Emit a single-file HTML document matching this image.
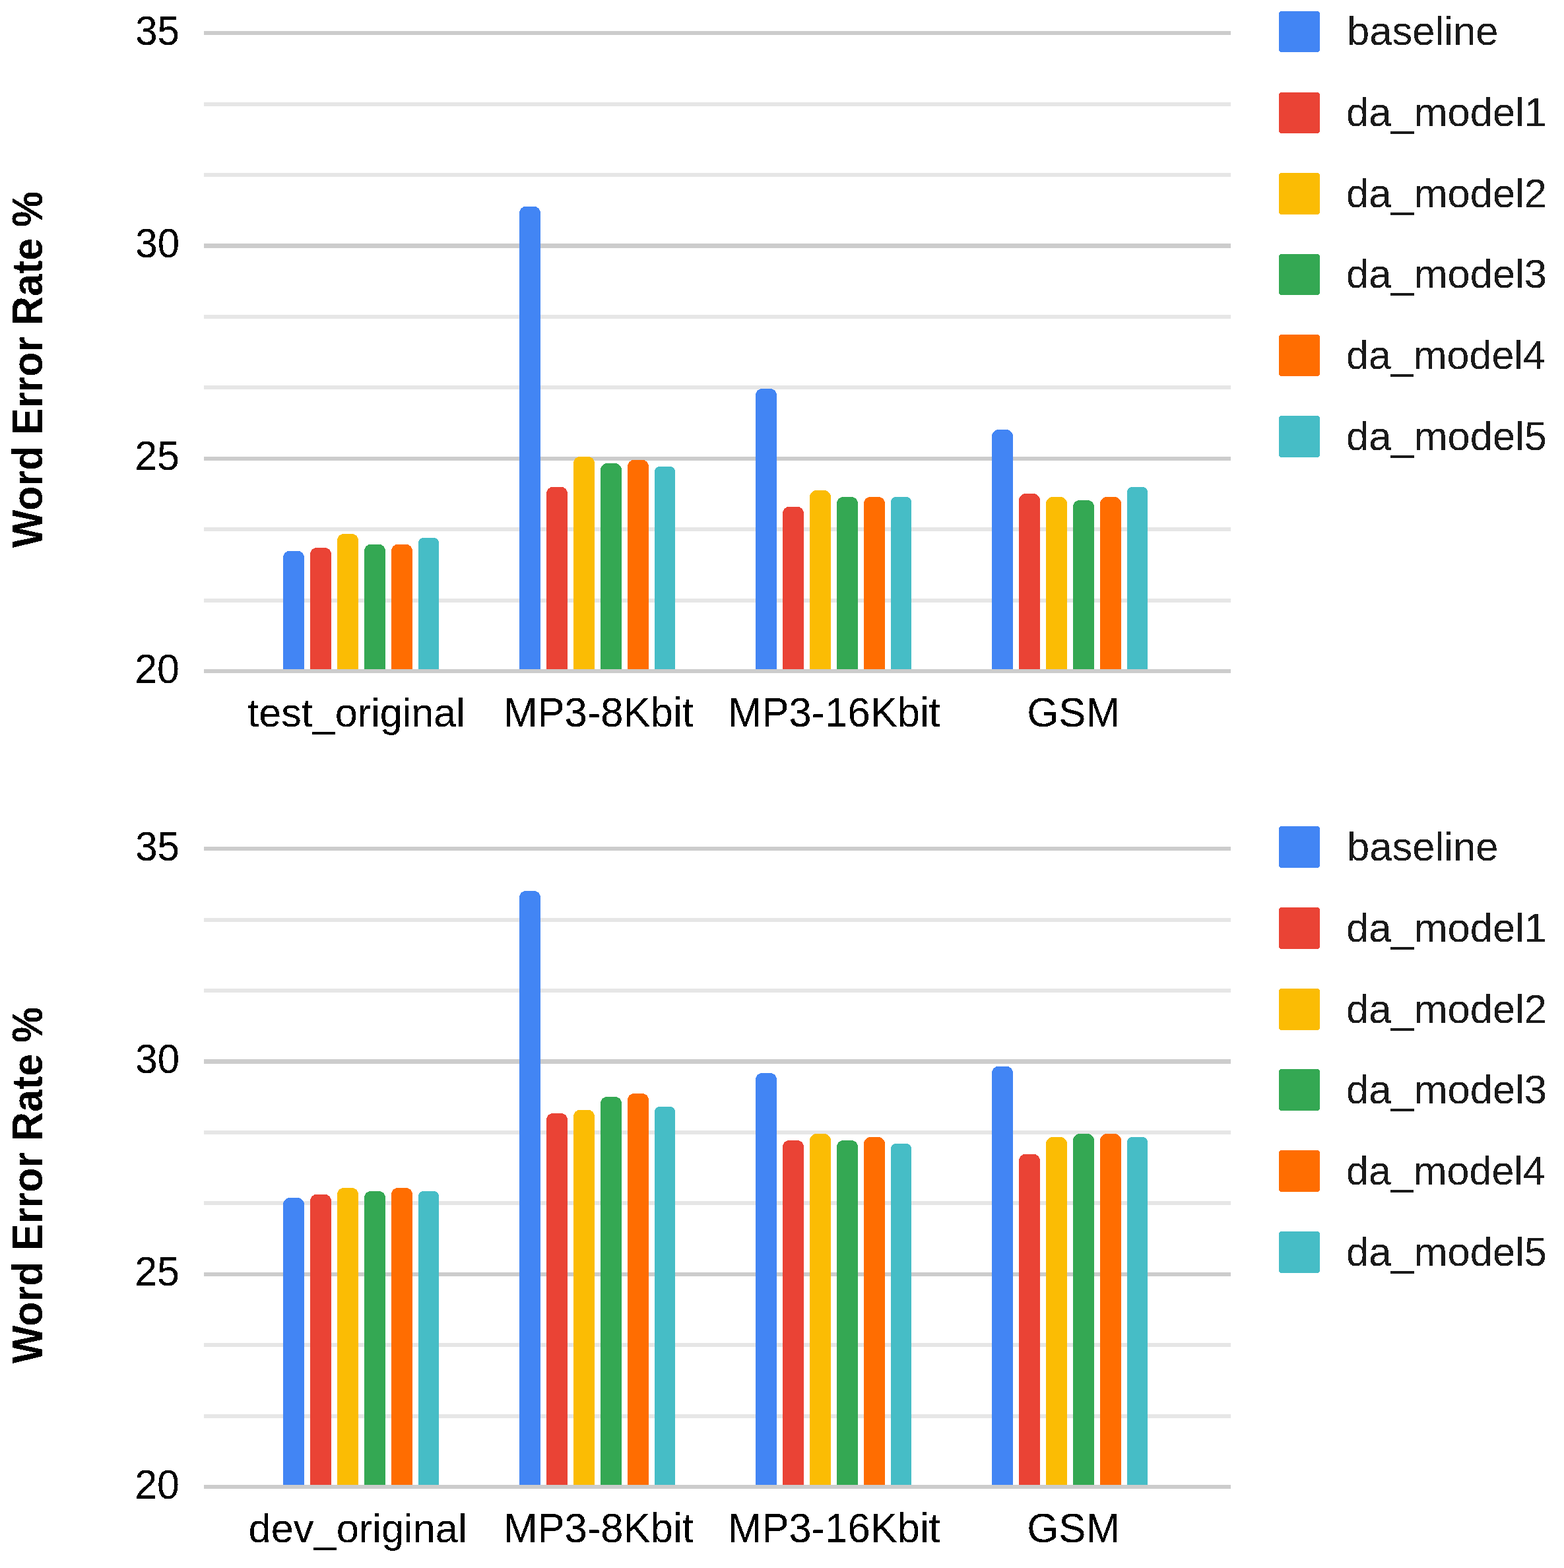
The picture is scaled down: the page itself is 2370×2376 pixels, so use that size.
<!DOCTYPE html>
<html><head><meta charset="utf-8"><title>Word Error Rate chart</title><style>
html,body{margin:0;padding:0;background:#fff;overflow:hidden;}
svg{display:block;}
rect,path{shape-rendering:crispEdges;}
text{filter:url(#bin);}
text{font-family:"Liberation Sans",Arial,sans-serif;font-size:61px;}
.ax{fill:#000;}
.lg{fill:#1a1a1a;}
.ti{font-weight:bold;fill:#000;}
</style></head><body>
<svg width="2370" height="2376" viewBox="0 0 2370 2376" xmlns="http://www.w3.org/2000/svg">
<defs><filter id="bin" x="0" y="0" width="1" height="1" color-interpolation-filters="sRGB"><feComponentTransfer><feFuncA type="discrete" tableValues="0 1"/></feComponentTransfer></filter></defs>
<rect width="2370" height="2376" fill="#fff"/>
<rect x="309" y="47" width="1556" height="6" fill="#cccccc"/>
<rect x="309" y="155" width="1556" height="6" fill="#e6e6e6"/>
<rect x="309" y="262" width="1556" height="6" fill="#e6e6e6"/>
<rect x="309" y="369" width="1556" height="7" fill="#cccccc"/>
<rect x="309" y="477" width="1556" height="6" fill="#e6e6e6"/>
<rect x="309" y="584" width="1556" height="6" fill="#e6e6e6"/>
<rect x="309" y="692" width="1556" height="6" fill="#cccccc"/>
<rect x="309" y="799" width="1556" height="6" fill="#e6e6e6"/>
<rect x="309" y="907" width="1556" height="6" fill="#e6e6e6"/>
<path d="M429,1017.00V844.80A10,10 0 0 1 439,834.80H451A10,10 0 0 1 461,844.80V1017.00Z" fill="#4285f4"/>
<path d="M470,1017.00V839.90A10,10 0 0 1 480,829.90H492A10,10 0 0 1 502,839.90V1017.00Z" fill="#ea4335"/>
<path d="M511,1017.00V818.90A10,10 0 0 1 521,808.90H533A10,10 0 0 1 543,818.90V1017.00Z" fill="#fbbc04"/>
<path d="M552,1017.00V834.70A10,10 0 0 1 562,824.70H574A10,10 0 0 1 584,834.70V1017.00Z" fill="#34a853"/>
<path d="M593,1017.00V834.70A10,10 0 0 1 603,824.70H615A10,10 0 0 1 625,834.70V1017.00Z" fill="#ff6d01"/>
<path d="M634,1017.00V822.40A7.5,7.5 0 0 1 641.5,814.90H657.5A7.5,7.5 0 0 1 665,822.40V1017.00Z" fill="#46bdc6"/>
<path d="M787,1017.00V322.80A10,10 0 0 1 797,312.80H809A10,10 0 0 1 819,322.80V1017.00Z" fill="#4285f4"/>
<path d="M828,1017.00V747.70A10,10 0 0 1 838,737.70H850A10,10 0 0 1 860,747.70V1017.00Z" fill="#ea4335"/>
<path d="M869,1017.00V701.90A10,10 0 0 1 879,691.90H891A10,10 0 0 1 901,701.90V1017.00Z" fill="#fbbc04"/>
<path d="M910,1017.00V712.00A10,10 0 0 1 920,702.00H932A10,10 0 0 1 942,712.00V1017.00Z" fill="#34a853"/>
<path d="M951,1017.00V706.80A10,10 0 0 1 961,696.80H973A10,10 0 0 1 983,706.80V1017.00Z" fill="#ff6d01"/>
<path d="M992,1017.00V714.40A7.5,7.5 0 0 1 999.5,706.90H1015.5A7.5,7.5 0 0 1 1023,714.40V1017.00Z" fill="#46bdc6"/>
<path d="M1145,1017.00V598.90A10,10 0 0 1 1155,588.90H1167A10,10 0 0 1 1177,598.90V1017.00Z" fill="#4285f4"/>
<path d="M1186,1017.00V777.80A10,10 0 0 1 1196,767.80H1208A10,10 0 0 1 1218,777.80V1017.00Z" fill="#ea4335"/>
<path d="M1227,1017.00V753.00A10,10 0 0 1 1237,743.00H1249A10,10 0 0 1 1259,753.00V1017.00Z" fill="#fbbc04"/>
<path d="M1268,1017.00V762.90A10,10 0 0 1 1278,752.90H1290A10,10 0 0 1 1300,762.90V1017.00Z" fill="#34a853"/>
<path d="M1309,1017.00V762.90A10,10 0 0 1 1319,752.90H1331A10,10 0 0 1 1341,762.90V1017.00Z" fill="#ff6d01"/>
<path d="M1350,1017.00V760.40A7.5,7.5 0 0 1 1357.5,752.90H1373.5A7.5,7.5 0 0 1 1381,760.40V1017.00Z" fill="#46bdc6"/>
<path d="M1503,1017.00V661.00A10,10 0 0 1 1513,651.00H1525A10,10 0 0 1 1535,661.00V1017.00Z" fill="#4285f4"/>
<path d="M1544,1017.00V758.00A10,10 0 0 1 1554,748.00H1566A10,10 0 0 1 1576,758.00V1017.00Z" fill="#ea4335"/>
<path d="M1585,1017.00V763.00A10,10 0 0 1 1595,753.00H1607A10,10 0 0 1 1617,763.00V1017.00Z" fill="#fbbc04"/>
<path d="M1626,1017.00V767.90A10,10 0 0 1 1636,757.90H1648A10,10 0 0 1 1658,767.90V1017.00Z" fill="#34a853"/>
<path d="M1667,1017.00V763.00A10,10 0 0 1 1677,753.00H1689A10,10 0 0 1 1699,763.00V1017.00Z" fill="#ff6d01"/>
<path d="M1708,1017.00V745.40A7.5,7.5 0 0 1 1715.5,737.90H1731.5A7.5,7.5 0 0 1 1739,745.40V1017.00Z" fill="#46bdc6"/>
<rect x="309" y="1014" width="1556" height="6" fill="#cccccc"/>
<text transform="translate(205.23,67.80) scale(1,1.04)" class="ax" textLength="66.78" lengthAdjust="spacingAndGlyphs">35</text>
<text transform="translate(205.23,390.13) scale(1,1.04)" class="ax" textLength="66.82" lengthAdjust="spacingAndGlyphs">30</text>
<text transform="translate(204.19,712.46) scale(1,1.04)" class="ax" textLength="67.87" lengthAdjust="spacingAndGlyphs">25</text>
<text transform="translate(204.19,1034.79) scale(1,1.04)" class="ax" textLength="67.87" lengthAdjust="spacingAndGlyphs">20</text>
<text transform="translate(63.90,830.00) rotate(-90) scale(1,1.05)" class="ti" textLength="540.10" lengthAdjust="spacingAndGlyphs">Word Error Rate %</text>
<text transform="translate(375.20,1100.70)" class="ax" textLength="329.73" lengthAdjust="spacingAndGlyphs">test_original</text>
<text transform="translate(763.15,1100.70) scale(1,1.02)" class="ax" textLength="287.63" lengthAdjust="spacingAndGlyphs">MP3-8Kbit</text>
<text transform="translate(1103.16,1100.70) scale(1,1.02)" class="ax" textLength="321.54" lengthAdjust="spacingAndGlyphs">MP3-16Kbit</text>
<text transform="translate(1556.35,1100.70) scale(1,1.02)" class="ax" textLength="140.45" lengthAdjust="spacingAndGlyphs">GSM</text>
<rect x="1938" y="17" width="62" height="62" rx="4" fill="#4285f4"/>
<text transform="translate(2040.95,67.90)" class="lg" textLength="229.49" lengthAdjust="spacingAndGlyphs">baseline</text>
<rect x="1938" y="140" width="62" height="62" rx="4" fill="#ea4335"/>
<text transform="translate(2039.98,190.70)" class="lg" textLength="303.88" lengthAdjust="spacingAndGlyphs">da_model1</text>
<rect x="1938" y="262" width="62" height="63" rx="4" fill="#fbbc04"/>
<text transform="translate(2039.98,313.50)" class="lg" textLength="303.88" lengthAdjust="spacingAndGlyphs">da_model2</text>
<rect x="1938" y="385" width="62" height="62" rx="4" fill="#34a853"/>
<text transform="translate(2039.98,436.30)" class="lg" textLength="303.88" lengthAdjust="spacingAndGlyphs">da_model3</text>
<rect x="1938" y="507" width="62" height="63" rx="4" fill="#ff6d01"/>
<text transform="translate(2040.00,559.10)" class="lg" textLength="301.84" lengthAdjust="spacingAndGlyphs">da_model4</text>
<rect x="1938" y="630" width="62" height="63" rx="4" fill="#46bdc6"/>
<text transform="translate(2039.98,681.90)" class="lg" textLength="303.88" lengthAdjust="spacingAndGlyphs">da_model5</text>
<rect x="309" y="1283" width="1556" height="6" fill="#cccccc"/>
<rect x="309" y="1391" width="1556" height="6" fill="#e6e6e6"/>
<rect x="309" y="1498" width="1556" height="6" fill="#e6e6e6"/>
<rect x="309" y="1605" width="1556" height="7" fill="#cccccc"/>
<rect x="309" y="1713" width="1556" height="6" fill="#e6e6e6"/>
<rect x="309" y="1820" width="1556" height="6" fill="#e6e6e6"/>
<rect x="309" y="1928" width="1556" height="6" fill="#cccccc"/>
<rect x="309" y="2035" width="1556" height="6" fill="#e6e6e6"/>
<rect x="309" y="2143" width="1556" height="6" fill="#e6e6e6"/>
<path d="M429,2253.00V1825.00A10,10 0 0 1 439,1815.00H451A10,10 0 0 1 461,1825.00V2253.00Z" fill="#4285f4"/>
<path d="M470,2253.00V1819.80A10,10 0 0 1 480,1809.80H492A10,10 0 0 1 502,1819.80V2253.00Z" fill="#ea4335"/>
<path d="M511,2253.00V1809.90A10,10 0 0 1 521,1799.90H533A10,10 0 0 1 543,1809.90V2253.00Z" fill="#fbbc04"/>
<path d="M552,2253.00V1814.90A10,10 0 0 1 562,1804.90H574A10,10 0 0 1 584,1814.90V2253.00Z" fill="#34a853"/>
<path d="M593,2253.00V1809.90A10,10 0 0 1 603,1799.90H615A10,10 0 0 1 625,1809.90V2253.00Z" fill="#ff6d01"/>
<path d="M634,2253.00V1812.40A7.5,7.5 0 0 1 641.5,1804.90H657.5A7.5,7.5 0 0 1 665,1812.40V2253.00Z" fill="#46bdc6"/>
<path d="M787,2253.00V1359.90A10,10 0 0 1 797,1349.90H809A10,10 0 0 1 819,1359.90V2253.00Z" fill="#4285f4"/>
<path d="M828,2253.00V1696.90A10,10 0 0 1 838,1686.90H850A10,10 0 0 1 860,1696.90V2253.00Z" fill="#ea4335"/>
<path d="M869,2253.00V1691.80A10,10 0 0 1 879,1681.80H891A10,10 0 0 1 901,1691.80V2253.00Z" fill="#fbbc04"/>
<path d="M910,2253.00V1671.90A10,10 0 0 1 920,1661.90H932A10,10 0 0 1 942,1671.90V2253.00Z" fill="#34a853"/>
<path d="M951,2253.00V1666.90A10,10 0 0 1 961,1656.90H973A10,10 0 0 1 983,1666.90V2253.00Z" fill="#ff6d01"/>
<path d="M992,2253.00V1684.40A7.5,7.5 0 0 1 999.5,1676.90H1015.5A7.5,7.5 0 0 1 1023,1684.40V2253.00Z" fill="#46bdc6"/>
<path d="M1145,2253.00V1635.90A10,10 0 0 1 1155,1625.90H1167A10,10 0 0 1 1177,1635.90V2253.00Z" fill="#4285f4"/>
<path d="M1186,2253.00V1737.90A10,10 0 0 1 1196,1727.90H1208A10,10 0 0 1 1218,1737.90V2253.00Z" fill="#ea4335"/>
<path d="M1227,2253.00V1728.00A10,10 0 0 1 1237,1718.00H1249A10,10 0 0 1 1259,1728.00V2253.00Z" fill="#fbbc04"/>
<path d="M1268,2253.00V1737.90A10,10 0 0 1 1278,1727.90H1290A10,10 0 0 1 1300,1737.90V2253.00Z" fill="#34a853"/>
<path d="M1309,2253.00V1733.00A10,10 0 0 1 1319,1723.00H1331A10,10 0 0 1 1341,1733.00V2253.00Z" fill="#ff6d01"/>
<path d="M1350,2253.00V1740.60A7.5,7.5 0 0 1 1357.5,1733.10H1373.5A7.5,7.5 0 0 1 1381,1740.60V2253.00Z" fill="#46bdc6"/>
<path d="M1503,2253.00V1625.80A10,10 0 0 1 1513,1615.80H1525A10,10 0 0 1 1535,1625.80V2253.00Z" fill="#4285f4"/>
<path d="M1544,2253.00V1758.80A10,10 0 0 1 1554,1748.80H1566A10,10 0 0 1 1576,1758.80V2253.00Z" fill="#ea4335"/>
<path d="M1585,2253.00V1733.00A10,10 0 0 1 1595,1723.00H1607A10,10 0 0 1 1617,1733.00V2253.00Z" fill="#fbbc04"/>
<path d="M1626,2253.00V1728.00A10,10 0 0 1 1636,1718.00H1648A10,10 0 0 1 1658,1728.00V2253.00Z" fill="#34a853"/>
<path d="M1667,2253.00V1728.00A10,10 0 0 1 1677,1718.00H1689A10,10 0 0 1 1699,1728.00V2253.00Z" fill="#ff6d01"/>
<path d="M1708,2253.00V1730.50A7.5,7.5 0 0 1 1715.5,1723.00H1731.5A7.5,7.5 0 0 1 1739,1730.50V2253.00Z" fill="#46bdc6"/>
<rect x="309" y="2250" width="1556" height="6" fill="#cccccc"/>
<text transform="translate(205.23,1303.80) scale(1,1.04)" class="ax" textLength="66.78" lengthAdjust="spacingAndGlyphs">35</text>
<text transform="translate(205.23,1626.13) scale(1,1.04)" class="ax" textLength="66.82" lengthAdjust="spacingAndGlyphs">30</text>
<text transform="translate(204.19,1948.46) scale(1,1.04)" class="ax" textLength="67.87" lengthAdjust="spacingAndGlyphs">25</text>
<text transform="translate(204.19,2270.79) scale(1,1.04)" class="ax" textLength="67.87" lengthAdjust="spacingAndGlyphs">20</text>
<text transform="translate(63.90,2066.00) rotate(-90) scale(1,1.05)" class="ti" textLength="540.10" lengthAdjust="spacingAndGlyphs">Word Error Rate %</text>
<text transform="translate(376.58,2336.70)" class="ax" textLength="331.00" lengthAdjust="spacingAndGlyphs">dev_original</text>
<text transform="translate(763.15,2336.70) scale(1,1.02)" class="ax" textLength="287.63" lengthAdjust="spacingAndGlyphs">MP3-8Kbit</text>
<text transform="translate(1103.16,2336.70) scale(1,1.02)" class="ax" textLength="321.54" lengthAdjust="spacingAndGlyphs">MP3-16Kbit</text>
<text transform="translate(1556.35,2336.70) scale(1,1.02)" class="ax" textLength="140.45" lengthAdjust="spacingAndGlyphs">GSM</text>
<rect x="1938" y="1252" width="62" height="63" rx="4" fill="#4285f4"/>
<text transform="translate(2040.95,1303.90)" class="lg" textLength="229.49" lengthAdjust="spacingAndGlyphs">baseline</text>
<rect x="1938" y="1375" width="62" height="63" rx="4" fill="#ea4335"/>
<text transform="translate(2039.98,1426.70)" class="lg" textLength="303.88" lengthAdjust="spacingAndGlyphs">da_model1</text>
<rect x="1938" y="1498" width="62" height="63" rx="4" fill="#fbbc04"/>
<text transform="translate(2039.98,1549.50)" class="lg" textLength="303.88" lengthAdjust="spacingAndGlyphs">da_model2</text>
<rect x="1938" y="1620" width="62" height="63" rx="4" fill="#34a853"/>
<text transform="translate(2039.98,1672.30)" class="lg" textLength="303.88" lengthAdjust="spacingAndGlyphs">da_model3</text>
<rect x="1938" y="1743" width="62" height="63" rx="4" fill="#ff6d01"/>
<text transform="translate(2040.00,1795.10)" class="lg" textLength="301.84" lengthAdjust="spacingAndGlyphs">da_model4</text>
<rect x="1938" y="1866" width="62" height="63" rx="4" fill="#46bdc6"/>
<text transform="translate(2039.98,1917.90)" class="lg" textLength="303.88" lengthAdjust="spacingAndGlyphs">da_model5</text>
</svg>
</body></html>
